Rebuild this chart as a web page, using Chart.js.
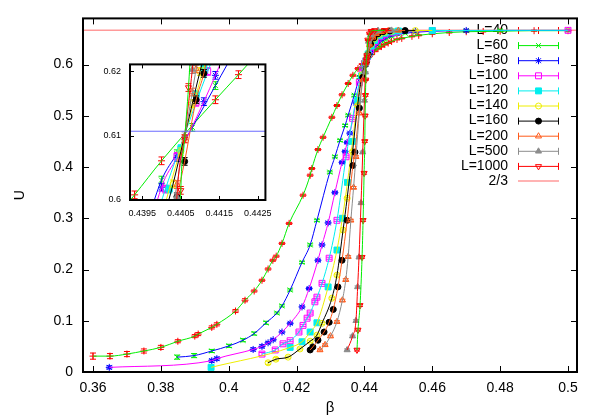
<!DOCTYPE html>
<html><head><meta charset="utf-8">
<script src="https://cdn.jsdelivr.net/npm/chart.js@4/dist/chart.umd.min.js"></script>
<style>
body{margin:0;background:#fff;}
#wrap{position:relative;width:600px;height:420px;background:#fff;}
#main{position:absolute;left:0;top:0;}
#inset{position:absolute;left:90px;top:50px;}
</style></head><body>
<div id="wrap"><canvas id="main" width="600" height="420"></canvas><canvas id="inset" width="190" height="175"></canvas></div>
<script>
// ---------- data: [beta, U, error] ----------
const seriesLabels = ['L=40','L=60','L=80','L=100','L=120','L=140','L=160','L=200','L=500','L=1000'];
const L40 = [[0.360,0.031,0.006],[0.365,0.031,0.005],[0.370,0.035,0.005],[0.375,0.041,0.004],[0.380,0.048,0.004],[0.385,0.060,0.003],[0.390,0.070,0.003],[0.391,0.074,0.003],[0.395,0.087,0.003],[0.3965,0.093,0.003],[0.402,0.119,0.003],[0.4048,0.140,0.003],[0.4075,0.158,0.002],[0.4098,0.179,0.002],[0.4116,0.201,0.002],[0.4130,0.218,0.002],[0.4140,0.226,0.002],[0.4157,0.251,0.002],[0.4178,0.290,0.002],[0.4219,0.345,0.002],[0.4240,0.384,0.002],[0.4245,0.397,0.002],[0.4263,0.434,0.002],[0.4278,0.458,0.002],[0.4304,0.497,0.002],[0.4319,0.520,0.002],[0.4334,0.541,0.002],[0.4352,0.563,0.002],[0.4366,0.579,0.002],[0.4381,0.592,0.002],[0.4393,0.6008,0.0006],[0.4400,0.6061,0.0006],[0.4414,0.6156,0.0006],[0.4420,0.6195,0.0006],[0.4430,0.626,0.001],[0.4440,0.631,0.001],[0.4450,0.635,0.001],[0.4460,0.639,0.001],[0.4470,0.642,0.001],[0.4480,0.645,0.001],[0.4496,0.649,0.001],[0.4510,0.651,0.001],[0.4540,0.655,0.001],[0.4560,0.657,0.001],[0.4600,0.660,0.001],[0.4650,0.6625,0.001],[0.4700,0.664,0.001],[0.4750,0.6645,0.001],[0.4800,0.665,0.001],[0.4900,0.666,0.001],[0.5000,0.666,0.001]];
const L60 = [[0.3848,0.029,0.004],[0.3898,0.032,0.004],[0.3950,0.041,0.003],[0.4001,0.051,0.003],[0.4042,0.062,0.003],[0.4075,0.075,0.003],[0.4110,0.096,0.003],[0.4142,0.115,0.002],[0.4157,0.129,0.002],[0.4181,0.160,0.002],[0.4216,0.214,0.002],[0.4240,0.248,0.002],[0.4260,0.296,0.002],[0.4298,0.390,0.002],[0.4313,0.420,0.002],[0.4328,0.452,0.002],[0.4343,0.481,0.002],[0.4352,0.501,0.002],[0.4370,0.540,0.002],[0.4385,0.575,0.002],[0.4395,0.594,0.001],[0.4400,0.6031,0.0006],[0.4404,0.6072,0.0006],[0.4408,0.6113,0.0006],[0.4414,0.6178,0.0006],[0.4420,0.624,0.001],[0.4430,0.632,0.001],[0.4440,0.639,0.001],[0.4450,0.645,0.001],[0.4460,0.649,0.001],[0.4470,0.653,0.001],[0.4480,0.655,0.001],[0.4500,0.659,0.001],[0.4520,0.661,0.001],[0.4550,0.663,0.001],[0.4600,0.665,0.001],[0.4700,0.6662,0.001],[0.4800,0.6665,0.001],[0.5000,0.6666,0.001]];
const L80 = [[0.3648,0.009,0.003],[0.3950,0.022,0.003],[0.3965,0.026,0.003],[0.4072,0.044,0.003],[0.4098,0.050,0.003],[0.4116,0.057,0.002],[0.4131,0.063,0.002],[0.4157,0.078,0.002],[0.4181,0.095,0.002],[0.4216,0.127,0.002],[0.4237,0.163,0.002],[0.4263,0.218,0.002],[0.4275,0.248,0.002],[0.4293,0.291,0.002],[0.4313,0.350,0.002],[0.4334,0.409,0.002],[0.4343,0.430,0.002],[0.4349,0.448,0.002],[0.4357,0.466,0.002],[0.4375,0.525,0.002],[0.4390,0.578,0.001],[0.4400,0.6020,0.0006],[0.4404,0.6066,0.0006],[0.4411,0.6153,0.0006],[0.4414,0.6194,0.0006],[0.4418,0.625,0.001],[0.4425,0.634,0.001],[0.4432,0.641,0.001],[0.4440,0.646,0.001],[0.4450,0.651,0.001],[0.4460,0.655,0.001],[0.4480,0.660,0.001],[0.4500,0.6625,0.001],[0.4550,0.665,0.001],[0.4600,0.666,0.001],[0.4700,0.6665,0.001]];
const L100 = [[0.4098,0.035,0.003],[0.4137,0.043,0.003],[0.4160,0.055,0.002],[0.4181,0.061,0.002],[0.4207,0.078,0.002],[0.4219,0.091,0.002],[0.4231,0.105,0.002],[0.4240,0.115,0.002],[0.4254,0.137,0.002],[0.4260,0.146,0.002],[0.4275,0.173,0.002],[0.4296,0.222,0.002],[0.4319,0.296,0.002],[0.4346,0.420,0.002],[0.4365,0.495,0.002],[0.4385,0.565,0.001],[0.4395,0.590,0.001],[0.4401,0.6017,0.0006],[0.4404,0.6068,0.0006],[0.4409,0.6152,0.0006],[0.4412,0.6200,0.0006],[0.4418,0.629,0.001],[0.4425,0.638,0.001],[0.4432,0.645,0.001],[0.4440,0.650,0.001],[0.4450,0.655,0.001],[0.4460,0.658,0.001],[0.4480,0.662,0.001],[0.4500,0.664,0.001],[0.4600,0.6663,0.001],[0.5000,0.6667,0.001]];
const L120 = [[0.3948,0.009,0.003],[0.4181,0.048,0.003],[0.4216,0.059,0.002],[0.4240,0.078,0.002],[0.4260,0.096,0.002],[0.4293,0.166,0.002],[0.4319,0.238,0.002],[0.4335,0.300,0.002],[0.4350,0.370,0.002],[0.4365,0.450,0.002],[0.4380,0.530,0.002],[0.4392,0.578,0.001],[0.4402,0.6017,0.0006],[0.4405,0.6080,0.0006],[0.4409,0.6164,0.0006],[0.4411,0.6206,0.0006],[0.4420,0.636,0.001],[0.4430,0.647,0.001],[0.4445,0.656,0.001],[0.4460,0.661,0.001],[0.4480,0.664,0.001],[0.4500,0.6655,0.001],[0.4600,0.6665,0.001]];
const L140 = [[0.4116,0.018,0.003],[0.4139,0.025,0.003],[0.4175,0.029,0.002],[0.4210,0.045,0.002],[0.4240,0.060,0.002],[0.4260,0.072,0.002],[0.4275,0.095,0.002],[0.4304,0.144,0.002],[0.4319,0.189,0.002],[0.4337,0.277,0.002],[0.4349,0.339,0.002],[0.4365,0.430,0.002],[0.4380,0.520,0.002],[0.4393,0.580,0.001],[0.4403,0.6025,0.0006],[0.4405,0.6075,0.0006],[0.4408,0.6150,0.0006],[0.4410,0.6200,0.0006],[0.4420,0.640,0.001],[0.4430,0.651,0.001],[0.4445,0.659,0.001],[0.4460,0.663,0.001],[0.4480,0.665,0.001],[0.4550,0.6663,0.001]];
const L160 = [[0.4240,0.043,0.002],[0.4248,0.049,0.002],[0.4263,0.062,0.002],[0.4281,0.078,0.002],[0.4296,0.097,0.002],[0.4308,0.122,0.002],[0.4322,0.166,0.002],[0.4334,0.218,0.002],[0.4349,0.296,0.002],[0.4366,0.403,0.002],[0.4372,0.429,0.002],[0.4385,0.515,0.002],[0.4395,0.575,0.001],[0.4404,0.6005,0.0006],[0.4406,0.6060,0.0006],[0.4409,0.6156,0.0006],[0.4411,0.6197,0.0006],[0.4418,0.640,0.001],[0.4428,0.652,0.001],[0.4440,0.660,0.001],[0.4455,0.664,0.001],[0.4475,0.6655,0.001],[0.4520,0.6663,0.001]];
const L200 = [[0.4269,0.043,0.002],[0.4284,0.053,0.002],[0.4300,0.070,0.002],[0.4319,0.098,0.002],[0.4335,0.140,0.002],[0.4345,0.180,0.002],[0.4352,0.225,0.002],[0.4360,0.296,0.002],[0.4368,0.360,0.002],[0.4375,0.420,0.002],[0.4385,0.505,0.002],[0.4395,0.570,0.001],[0.4404,0.6024,0.0006],[0.4406,0.6096,0.0006],[0.4408,0.6168,0.0006],[0.4409,0.6204,0.0006],[0.4415,0.638,0.001],[0.4425,0.653,0.001],[0.4435,0.660,0.001],[0.4450,0.664,0.001],[0.4470,0.6658,0.001],[0.4500,0.6664,0.001]];
const L500 = [[0.4349,0.043,0.002],[0.4365,0.070,0.002],[0.4375,0.100,0.002],[0.4380,0.166,0.002],[0.4384,0.224,0.002],[0.4390,0.330,0.002],[0.4395,0.429,0.002],[0.4400,0.530,0.002],[0.4403,0.585,0.001],[0.4404,0.6005,0.0006],[0.4406,0.6100,0.0006],[0.4408,0.6203,0.0006],[0.4412,0.645,0.001],[0.4418,0.658,0.001],[0.4425,0.664,0.001],[0.4440,0.6663,0.001],[0.4480,0.6666,0.001]];
const L1000 = [[0.4378,0.043,0.002],[0.4381,0.082,0.002],[0.4387,0.130,0.002],[0.4393,0.224,0.002],[0.4396,0.296,0.002],[0.4399,0.388,0.002],[0.4401,0.450,0.002],[0.4402,0.500,0.002],[0.4403,0.540,0.002],[0.4404,0.570,0.001],[0.4405,0.6015,0.0006],[0.4406,0.6095,0.0006],[0.4407,0.6175,0.0006],[0.4410,0.648,0.001],[0.4415,0.660,0.001],[0.4420,0.665,0.001],[0.4430,0.6665,0.001],[0.4460,0.6667,0.001]];
const allSeries = [L40,L60,L80,L100,L120,L140,L160,L200,L500,L1000];

const limitValue = 2/3;          // "2/3" line
const crossingU = 0.6107;        // inset horizontal line
const mainXTicks = [0.36,0.38,0.40,0.42,0.44,0.46,0.48,0.50];
const mainYTicks = [0,0.1,0.2,0.3,0.4,0.5,0.6];
const insetXTicks = [0.4395,0.4405,0.4415,0.4425];
const insetYTicks = [0.60,0.61,0.62];
const mainRange = {xmin:0.35705, xmax:0.50265, ymin:0, ymax:0.69};
const insetRange = {xmin:0.43918, xmax:0.4427, ymin:0.6, ymax:0.6211};

// ---------- styles ----------
const FONT = '"Liberation Sans", Arial, Helvetica, sans-serif';
const pointColors = ['#ff0000','#00ee00','#0000ff','#ff00ff','#00eeee','#eeee00','#000000','#ff5a1a','#8c8c8c','#ff0000'];
const lineColors  = ['#00ee00','#0000ff','#ff00ff','#00eeee','#eeee00','#000000','#ff5a1a','#8c8c8c','#ff0000','#00ee00'];
const pStyles = ['cross','crossRot','star','rect','rect','circle','circle','triangle','triangle','triangle'];
const pFilled = [false,false,false,false,true,false,true,false,true,false];
const pRadius = [3.5,3.5,3.5,4.2,4.2,3,3,3.5,3.5,3.5];
const pRot = [0,0,0,0,0,0,0,0,0,180];
const limitColor = '#ff9a9a';
const crossColor = '#6a6aff';

function fmt(v){ return String(+v.toFixed(4)); }

function buildDatasets(inset){
  const ds = [];
  const r = inset ? insetRange : mainRange;
  ds.push({label:'2/3', data:[{x:r.xmin,y:limitValue},{x:r.xmax,y:limitValue}], showLine:true, pointRadius:0,
           borderColor:limitColor, borderWidth:1.5, order:2000});
  allSeries.forEach((s,i)=>{
    const pts = s.map(p=>({x:p[0],y:p[1]}));
    ds.push({label:seriesLabels[i], data:pts, errs:s.map(p=>p[2]), showLine:false,
      pointStyle:pStyles[i], pointRadius:pRadius[i], pointBorderWidth:1, pointRotation:pRot[i],
      pointBorderColor:pointColors[i], borderColor:pointColors[i],
      pointBackgroundColor: pFilled[i]?pointColors[i]:'rgba(0,0,0,0)', order:1000-2*i});
    ds.push({label:'', data:pts, showLine:true, pointRadius:0, borderColor:lineColors[i], borderWidth:1,
      cubicInterpolationMode:'monotone', order:999-2*i});
  });
  if (inset){
    ds.push({label:'', data:[{x:r.xmin,y:crossingU},{x:r.xmax,y:crossingU}], showLine:true, pointRadius:0,
      borderColor:crossColor, borderWidth:1, order:1});
  }
  return ds;
}

// ---------- plugins ----------
const errorBarPlugin = {
  id:'errbars',
  beforeDatasetDraw(chart, args){
    const ds = chart.data.datasets[args.index];
    if (!ds.errs) return;
    const {ctx, chartArea:a} = chart; const xs = chart.scales.x, ys = chart.scales.y;
    ctx.save(); ctx.beginPath(); ctx.rect(a.left,a.top,a.right-a.left,a.bottom-a.top); ctx.clip();
    ctx.strokeStyle = ds.borderColor; ctx.lineWidth = 1; ctx.beginPath();
    ds.data.forEach((p,i)=>{
      const x = xs.getPixelForValue(p.x);
      const y1 = ys.getPixelForValue(p.y-ds.errs[i]), y2 = ys.getPixelForValue(p.y+ds.errs[i]);
      ctx.moveTo(x,y1); ctx.lineTo(x,y2);
      ctx.moveTo(x-3,y1); ctx.lineTo(x+3,y1);
      ctx.moveTo(x-3,y2); ctx.lineTo(x+3,y2);
    });
    ctx.stroke(); ctx.restore();
  }
};
const framePlugin = {
  id:'frame',
  beforeDraw(chart, args, o){
    if (o.fill){ const {ctx, chartArea:a} = chart; ctx.save(); ctx.fillStyle='#fff'; ctx.fillRect(a.left,a.top,a.right-a.left,a.bottom-a.top); ctx.restore(); }
  },
  afterDraw(chart, args, o){
    const {ctx, chartArea:a} = chart; const xs = chart.scales.x, ys = chart.scales.y;
    ctx.save(); ctx.strokeStyle='#000'; ctx.lineWidth=1; ctx.beginPath();
    o.xTicks.forEach(v=>{ const px = Math.round(xs.getPixelForValue(v))+0.5;
      ctx.moveTo(px,a.bottom); ctx.lineTo(px,a.bottom-o.len); ctx.moveTo(px,a.top); ctx.lineTo(px,a.top+o.len); });
    o.yTicks.forEach(v=>{ const py = Math.round(ys.getPixelForValue(v))+0.5;
      ctx.moveTo(a.left,py); ctx.lineTo(a.left+o.len,py); ctx.moveTo(a.right,py); ctx.lineTo(a.right-o.len,py); });
    ctx.stroke();
    ctx.lineWidth = o.lw; ctx.strokeRect(a.left,a.top,a.right-a.left,a.bottom-a.top);
    ctx.restore();
  }
};
const keyPlugin = {
  id:'gkey',
  beforeDatasetsDraw(chart){
    const ctx = chart.ctx;
    const textRight = 508, x1 = 518, x2 = 559, top = 30, step = 15.1;
    ctx.save();
    ctx.font = '14px ' + FONT; ctx.textAlign='right'; ctx.textBaseline='middle';
    const labels = seriesLabels.concat(['2/3']);
    labels.forEach((lab,i)=>{
      const y = top + i*step;
      ctx.fillStyle = '#000'; ctx.fillText(lab, textRight, y);
      if (i < seriesLabels.length){
        ctx.strokeStyle = pointColors[i]; ctx.lineWidth = 1; ctx.beginPath();
        ctx.moveTo(x1,y+0.5); ctx.lineTo(x2,y+0.5);
        ctx.moveTo(x1+0.5,y-3); ctx.lineTo(x1+0.5,y+4);
        ctx.moveTo(x2-0.5,y-3); ctx.lineTo(x2-0.5,y+4);
        ctx.stroke();
        ctx.fillStyle = pFilled[i]?pointColors[i]:'rgba(0,0,0,0)';
        if (Chart.helpers && Chart.helpers.drawPoint){
          Chart.helpers.drawPoint(ctx, {pointStyle:pStyles[i], radius:pRadius[i], rotation:pRot[i], borderWidth:1}, (x1+x2)/2, y+0.5);
        }
      } else {
        ctx.strokeStyle = limitColor; ctx.lineWidth = 1.5; ctx.beginPath();
        ctx.moveTo(x1,y); ctx.lineTo(x2,y); ctx.stroke();
      }
    });
    ctx.restore();
  }
};

function axisCfg(min,max,ticks,size,pad,fit,title){
  const c = {type:'linear', min:min, max:max,
    afterBuildTicks:s=>{ s.ticks = ticks.map(v=>({value:v})); },
    afterFit:fit,
    grid:{display:false, drawTicks:false}, border:{display:false},
    ticks:{padding:pad, color:'#000', font:{family:FONT,size:size}, callback:v=>fmt(v), maxRotation:0, autoSkip:false}};
  if (title) c.title = title;
  return c;
}

// ---------- main chart ----------
new Chart(document.getElementById('main'), {
  type:'scatter',
  data:{datasets:buildDatasets(false)},
  options:{
    responsive:false, animation:false, devicePixelRatio:1, events:[],
    layout:{padding:{left:0,right:23,top:17,bottom:0}},
    plugins:{legend:{display:false}, tooltip:{enabled:false},
      frame:{xTicks:mainXTicks, yTicks:mainYTicks, len:6, lw:2, fill:false}},
    scales:{
      x:axisCfg(mainRange.xmin,mainRange.xmax,mainXTicks,14,8,s=>{s.height=48;},
        {display:true,text:'β',color:'#000',font:{family:FONT,size:15},padding:{top:0,bottom:3}}),
      y:axisCfg(mainRange.ymin,mainRange.ymax,mainYTicks,14,10,s=>{s.width=83;},
        {display:true,text:'U',color:'#000',font:{family:FONT,size:14},padding:{top:12,bottom:0}})
    }
  },
  plugins:[errorBarPlugin, framePlugin, keyPlugin]
});

// ---------- inset chart ----------
new Chart(document.getElementById('inset'), {
  type:'scatter',
  data:{datasets:buildDatasets(true)},
  options:{
    responsive:false, animation:false, devicePixelRatio:1, events:[],
    layout:{padding:{left:0,right:9,top:12,bottom:0}},
    plugins:{legend:{display:false}, tooltip:{enabled:false},
      frame:{xTicks:insetXTicks, yTicks:insetYTicks, len:4, lw:2, fill:true}},
    scales:{
      x:axisCfg(insetRange.xmin,insetRange.xmax,insetXTicks,9,8,s=>{s.height=25;}),
      y:axisCfg(insetRange.ymin,insetRange.ymax,insetYTicks,9,9,s=>{s.width=40;})
    }
  },
  plugins:[errorBarPlugin, framePlugin]
});
</script>
</body></html>
